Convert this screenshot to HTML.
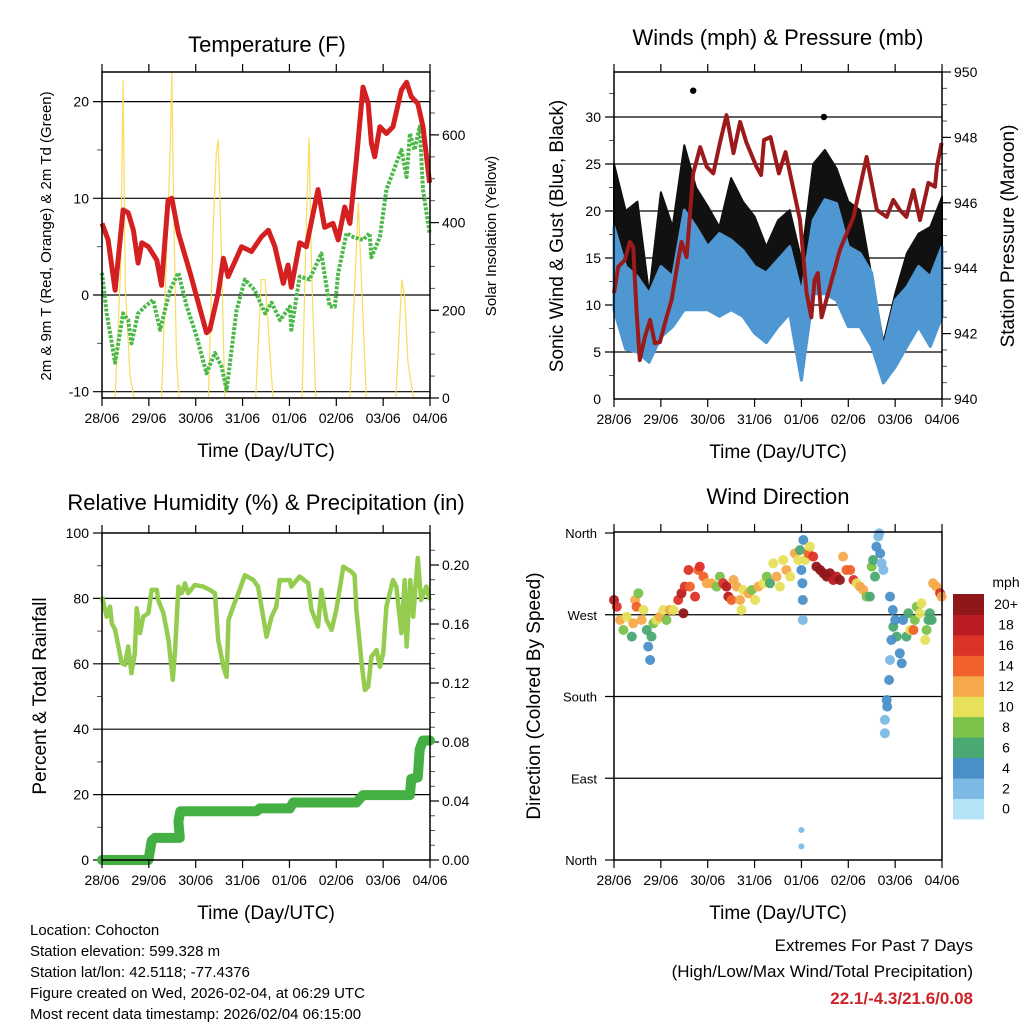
<!DOCTYPE html>
<html><head><meta charset="utf-8">
<style>
html,body{margin:0;padding:0;background:#fff;}
svg{display:block;font-family:"Liberation Sans",Arial,sans-serif;}
</style></head>
<body>
<svg id="chart" width="1024" height="1024" viewBox="0 0 1024 1024" xmlns="http://www.w3.org/2000/svg">
<rect width="1024" height="1024" fill="#fff"/>
<g id="p1"></g>
<g id="p2"></g>
<g id="p3"></g>
<g id="p4"></g>
<g font-size="15" fill="#000">
<text x="30" y="935">Location: Cohocton</text>
<text x="30" y="956">Station elevation: 599.328 m</text>
<text x="30" y="977">Station lat/lon: 42.5118; -77.4376</text>
<text x="30" y="998">Figure created on Wed, 2026-02-04, at 06:29 UTC</text>
<text x="30" y="1019">Most recent data timestamp: 2026/02/04 06:15:00</text>
</g>
<g text-anchor="end">
<text x="973" y="951" font-size="17">Extremes For Past 7 Days</text>
<text x="973" y="977" font-size="17">(High/Low/Max Wind/Total Precipitation)</text>
<text x="973" y="1004" font-size="17" font-weight="bold" fill="#cc2229">22.1/-4.3/21.6/0.08</text>
</g>
</svg>
<script>
// ---------- DATA ----------
const dayLabels = ["28/06","29/06","30/06","31/06","01/06","02/06","03/06","04/06"];
// Temperature (F)
const tempDays = [0,0.13,0.28,0.45,0.56,0.67,0.77,0.85,0.99,1.17,1.27,1.41,1.49,1.63,1.88,2.23,2.3,2.48,2.59,2.69,2.98,3.19,3.4,3.55,3.69,3.87,3.97,4.04,4.22,4.36,4.61,4.75,4.93,5.04,5.18,5.29,5.43,5.57,5.68,5.75,5.82,5.93,6.07,6.21,6.39,6.5,6.6,6.74,6.85,6.99];
const tempValues = [7.4,5.7,0.5,8.8,8.5,6.7,3.3,5.4,5.0,3.6,1.0,9.8,10,6.4,2.3,-3.9,-3.6,0.2,3.8,1.9,5.0,4.5,6.0,6.7,5.0,1.2,3.1,0.8,5.4,5.0,10.9,7.0,7.4,5.7,9.1,7.4,14,21.5,19.8,15.7,14.3,17.4,16.7,17.4,21.2,22,20.5,19.8,17.4,11.6];
const dewDays = [0,0.1,0.28,0.45,0.56,0.63,0.77,0.92,1.09,1.24,1.45,1.63,1.81,2.02,2.23,2.41,2.55,2.66,2.87,3.05,3.26,3.48,3.62,3.8,4.01,4.04,4.22,4.43,4.68,4.86,4.97,5.04,5.22,5.36,5.57,5.71,5.75,5.93,6.07,6.39,6.5,6.57,6.67,6.78,6.85,6.99];
const dewValues = [2.3,-1.9,-7.0,-1.9,-2.6,-5.0,-1.9,-1.2,-0.5,-3.6,0.5,2.3,-1.2,-4.3,-8.1,-6.0,-7.4,-9.8,-1.6,1.6,0.5,-1.9,-0.8,-2.6,-1.2,-3.6,1.9,1.6,4.3,-1.2,-1.2,2.3,6.4,6.0,5.7,6.4,3.9,6.0,10.9,15,12.2,16.7,15,17.4,10.9,6.4];
const solarDays = [0,0.28,0.4,0.45,0.5,0.6,0.68,1.27,1.45,1.49,1.52,1.59,1.65,2.27,2.37,2.44,2.48,2.55,2.62,3.28,3.4,3.48,3.65,4.27,4.36,4.42,4.47,4.56,5.29,5.47,5.64,6.27,6.4,6.46,6.53,6.65,7];
const solarValues = [0,0,300,725,250,50,0,0,543,745,490,87,0,0,380,558,590,323,0,0,270,270,0,0,400,595,300,0,0,445,0,0,270,230,80,0,0];
// Winds (mph) & pressure (mb)
const windDays = [0,0.25,0.5,0.75,1,1.25,1.5,1.75,2,2.25,2.5,2.75,3,3.25,3.5,3.75,4,4.25,4.5,4.75,5,5.25,5.5,5.75,6,6.25,6.5,6.75,7];
const windLow = [9.5,5.3,5,3.9,6.6,7.7,9.5,9.5,9.5,8.8,9.5,8.8,7,6,7.7,9.1,2,11.2,11.2,10.5,7.7,7.7,5.6,1.7,3.4,5.6,7.7,5.6,8.8];
const windHigh = [18.3,14.1,13,11.2,14.1,13,20.1,18.3,16.2,17.6,16.9,15.8,14.1,13.4,14.8,16.2,11.2,19,21.2,20.8,16.2,15.5,13.4,5.3,10.5,11.9,14.1,13,16.2];
const gustHigh = [25,20,21,11.2,22,18.3,27,22.5,20.5,18.3,23.5,21,19.4,16.2,19,20.1,14.8,25,26.5,24.5,21,20.1,13,6,11.2,15.5,17.6,18.3,21.5];
const gustOutlierDays = [1.69,4.48];
const gustOutlierValues = [32.8,30];
const pressDays = [0,0.09,0.23,0.34,0.41,0.48,0.55,0.66,0.77,0.87,0.98,1.12,1.23,1.37,1.44,1.55,1.69,1.84,1.98,2.12,2.26,2.4,2.55,2.69,2.83,3.04,3.14,3.2,3.34,3.52,3.66,3.97,4.11,4.21,4.28,4.35,4.43,4.57,4.82,5.11,5.39,5.61,5.82,5.96,6.1,6.24,6.39,6.53,6.71,6.85,6.89,6.99];
const pressValues = [943.24,944.04,944.25,944.8,944.65,942.72,941.19,941.9,942.42,941.71,941.74,942.5,943.03,944.25,944.8,944.34,946.9,947.7,947.1,946.9,947.83,948.68,947.52,948.47,947.83,947.1,946.85,947.92,948.01,946.9,947.55,945.47,943.24,942.5,943.64,943.85,942.5,943.24,944.56,945.57,947.4,945.78,945.57,946.09,945.78,945.57,946.39,945.47,946.61,946.49,947.1,947.83];
// Relative humidity (%) & precipitation (in)
const rhDays = [0,0.1,0.17,0.21,0.28,0.35,0.42,0.49,0.56,0.63,0.7,0.74,0.81,0.88,0.99,1.06,1.17,1.2,1.31,1.42,1.51,1.56,1.63,1.7,1.77,1.84,1.98,2.16,2.3,2.41,2.48,2.59,2.66,2.7,2.8,2.91,3.05,3.23,3.33,3.44,3.51,3.62,3.72,3.79,4.01,4.04,4.22,4.4,4.47,4.61,4.68,4.79,4.9,5.0,5.15,5.32,5.39,5.43,5.54,5.61,5.68,5.75,5.86,5.93,6.0,6.07,6.21,6.28,6.39,6.46,6.5,6.58,6.64,6.74,6.81,6.92,6.99];
const rhValues = [80.5,74.4,77.5,72.4,70.4,65.3,60.2,59.7,65.3,57.1,63.2,77,69.4,74.4,75.5,82.6,82.6,79.5,75.5,67.3,55.1,64.2,83.6,81.6,84.6,81.6,84.1,83.6,82.6,81.6,67.3,59.1,56.0,73.4,77.5,81.6,87.1,85.6,83.6,74.4,68.3,74.4,77.5,85.6,85.6,83.6,86.7,84.6,76.5,71.4,82.6,73.4,70.4,76.5,89.7,88.2,87.1,76.5,60.2,52.0,53.0,62.2,64.2,59.1,63.2,77.5,85.6,83.6,69.4,85.6,65.3,85.6,74.4,92.4,79.5,83.6,79.5];
const rainDays = [0,0.99,1.06,1.13,1.66,1.63,1.67,3.3,3.37,4.01,4.08,5.43,5.57,6.57,6.6,6.74,6.78,6.85,7.0];
const rainValues = [0,0,0.013,0.015,0.015,0.026,0.033,0.033,0.035,0.035,0.039,0.039,0.044,0.044,0.055,0.056,0.075,0.081,0.081];
// Wind direction (deg) colored by speed (mph)
const dirDays = [0,0.06,0.13,0.2,0.27,0.38,0.41,0.45,0.48,0.52,0.59,0.63,0.7,0.73,0.77,0.8,0.84,0.91,0.98,1.05,1.12,1.19,1.27,1.37,1.44,1.48,1.51,1.59,1.62,1.73,1.8,1.83,1.91,1.98,2.08,2.19,2.26,2.33,2.4,2.44,2.51,2.55,2.62,2.69,2.72,2.76,2.87,2.94,3.01,3.08,3.19,3.26,3.33,3.4,3.47,3.54,3.61,3.68,3.76,3.86,3.93,3.97,4.0,4.02,4.03,4.03,4.04,4.08,4.15,4.18,4.25,4.32,4.4,4.47,4.54,4.61,4.68,4.75,4.82,4.89,4.96,5.04,5.11,5.18,5.25,5.32,5.39,5.46,5.5,5.53,5.57,5.6,5.64,5.68,5.71,5.75,5.66,5.89,5.95,5.96,6.0,6.03,5.89,5.87,5.82,5.78,5.78,5.83,5.92,6.1,6.14,6.17,6.24,6.28,6.32,6.39,6.42,6.46,6.53,6.56,6.64,6.67,6.71,6.74,6.78,6.81,6.88,6.96,6.99,4.0,4.0];
const dirValues = [286.3,278.9,264.2,253.2,267.9,245.9,260.6,286.3,278.9,293.6,264.2,275.2,253.2,234.9,220.2,245.9,260.6,264.2,267.9,275.2,264.2,275.2,275.2,286.3,293.6,271.6,301,319.3,301,290,319.3,323,312,304.6,304.6,301,312,304.6,301,290,286.3,308.3,301,286.3,275.2,297.3,293.6,297.3,286.3,301,304.6,312,304.6,326.6,312,301,330.3,319.3,312,337.6,330.3,341.3,319.3,304.6,286.3,264.2,352.3,330.3,337.6,345,334,323,319.3,315.6,312,315.6,308.3,312,308.3,334,319.3,319.3,308.3,304.6,301,297.3,290,290,323,330.3,312,345,356,337.6,326.6,319.3,359.6,290,275.2,256.9,264.2,245.9,220.2,198.2,176.2,154.2,139.6,168.9,242.2,227.6,216.6,264.2,245.9,271.6,253.2,253.2,264.2,278.9,271.6,282.6,242.2,253.2,264.2,271.6,264.2,304.6,301,293.6,290,33,15];
const dirSpeeds = [18,16,12,8,10,7,12,12,14,9,12,10,6,5,4,6,8,11,12,10,9,12,11,16,18,20,17,17,15,16,14,17,14,12,13,9,8,16,18,18,15,13,13,12,11,10,12,9,10,12,11,9,7,10,12,10,11,13,10,12,10,6,4,4,4,2,4,10,14,10,16,20,20,20,20,20,19,18,20,12,14,14,16,11,12,13,9,7,8,6,7,4,2,4,2,2,2,4,5,6,4,6,2,4,4,2,2,4,5,4,4,5,7,6,10,14,8,8,10,10,10,8,7,6,7,12,12,17,12,2,2];
const speedColors = ["#b4e2f6","#7cb9e4","#4a90c8","#4aa872","#7bc24a","#e6e05a","#f6a94a","#f0622a","#dc3328","#b91c22","#8f1619"];
const speedLabels = ["0","2","4","6","8","10","12","14","16","18","20+"];
const dirLabels = ["North","East","South","West","North"];

// ---------- HELPERS ----------
const NS = "http://www.w3.org/2000/svg";
function mk(parent, tag, attrs, name) {
  const e = document.createElementNS(NS, tag);
  for (const k in attrs) e.setAttribute(k, attrs[k]);
  
  
  parent.appendChild(e);
  return e;
}
function txt(parent, x, y, s, size, anchor, name, extra) {
  const t = mk(parent, 'text', Object.assign({x: x, y: y, 'font-size': size, 'text-anchor': anchor || 'start', fill: '#000'}, extra || {}), name);
  t.textContent = s;
  return t;
}
function rotTxt(parent, x, y, s, size, name) {
  return txt(parent, 0, 0, s, size, 'middle', name, {transform: 'translate(' + x + ',' + y + ') rotate(-90)'});
}
function pathFrom(xs, ys, fx, fy) {
  return xs.map((d, i) => (i ? 'L' : 'M') + fx(d).toFixed(1) + ',' + fy(ys[i]).toFixed(1)).join('');
}
function frame(g, L, T, R, B, name) {
  mk(g, 'rect', {x: L, y: T, width: R - L, height: B - T, fill: 'none', stroke: '#000', 'stroke-width': 1.5}, name);
}
function xAxis(g, L, T, R, B, fx, prefix) {
  dayLabels.forEach((lab, i) => {
    const x = fx(i);
    mk(g, 'line', {x1: x, y1: B, x2: x, y2: B + 8, stroke: '#000', 'stroke-width': 1.2}, prefix + '-x-tick');
    mk(g, 'line', {x1: x, y1: T, x2: x, y2: T - 8, stroke: '#000', 'stroke-width': 1.2}, prefix + '-x-tick-top');
    txt(g, x, B + 25, lab, 14, 'middle', prefix + '-x-tick-label');
  });
  txt(g, (L + R) / 2, B + 59, 'Time (Day/UTC)', 19, 'middle', prefix + '-x-axis-title');
}
function grid(g, L, R, y, name) {
  mk(g, 'line', {x1: L - 9, y1: y, x2: R, y2: y, stroke: '#000', 'stroke-width': 1.2}, name);
}
function rightTicks(g, R, fy, vals, labels, minorVals, prefix) {
  minorVals.forEach(v => mk(g, 'line', {x1: R, y1: fy(v), x2: R + 5, y2: fy(v), stroke: '#555', 'stroke-width': 1}, prefix + '-minor-tick'));
  vals.forEach((v, i) => {
    mk(g, 'line', {x1: R, y1: fy(v), x2: R + 9, y2: fy(v), stroke: '#000', 'stroke-width': 1.2}, prefix + '-tick');
    txt(g, R + 12, fy(v) + 5, labels[i], 14, 'start', prefix + '-tick-label');
  });
}

// ---------- PANEL 1: Temperature ----------
(function () {
  const g = document.getElementById('p1');
  const L = 102, T = 72, R = 430, B = 398;
  const fx = d => L + d * 46.86;
  const fT = t => 295 - t * 9.67;
  const fS = s => B - s * 0.4385;
  txt(g, 267, 52, 'Temperature (F)', 22, 'middle', 'temperature-title');
  [-10, 0, 10, 20].forEach(v => {
    grid(g, L, R, fT(v), 'temp-gridline');
    txt(g, L - 13, fT(v) + 5, String(v), 14, 'end', 'temp-y-tick-label');
  });
  [-5, 5, 15].forEach(v => mk(g, 'line', {x1: L - 5, y1: fT(v), x2: L, y2: fT(v), stroke: '#555'}, 'temp-minor-tick'));
  const sMaj = [0, 200, 400, 600], sMin = [];
  for (let v = 0; v <= 740; v += 50) sMin.push(v);
  rightTicks(g, R, fS, sMaj, sMaj.map(String), sMin, 'solar');
  mk(g, 'path', {d: pathFrom(solarDays, solarValues, fx, v => fS(Math.min(v, 743))), fill: 'none', stroke: '#f7d94c', 'stroke-width': 1.2, opacity: 0.9}, 'solar-line');
  mk(g, 'path', {d: pathFrom(dewDays, dewValues, fx, fT), fill: 'none', stroke: '#4db84a', 'stroke-width': 4, 'stroke-dasharray': '3 1.5', 'stroke-linejoin': 'round'}, 'dewpoint-line');
  mk(g, 'path', {d: pathFrom(tempDays, tempValues, fx, fT), fill: 'none', stroke: '#d42020', 'stroke-width': 5, 'stroke-linejoin': 'round'}, 'temp-2m-line');
  frame(g, L, T, R, B, 'temp-plot-frame');
  xAxis(g, L, T, R, B, fx, 'temp');
  rotTxt(g, 51, 236, '2m & 9m T (Red, Orange) & 2m Td (Green)', 15, 'temp-y-axis-title');
  rotTxt(g, 496, 236, 'Solar Insolation (Yellow)', 15, 'solar-y-axis-title');
})();

// ---------- PANEL 2: Winds ----------
(function () {
  const g = document.getElementById('p2');
  const L = 614, T = 72, R = 942, B = 399;
  const fx = d => L + d * 46.86;
  const fW = m => B - m * 9.4;
  const fP = p => B - (p - 940) * 32.7;
  txt(g, 778, 45, 'Winds (mph) & Pressure (mb)', 22, 'middle', 'winds-title');
  [0, 5, 10, 15, 20, 25, 30].forEach(v => {
    if (v > 0) grid(g, L, R, fW(v), 'wind-gridline');
    txt(g, L - 13, fW(v) + 5, String(v), 14, 'end', 'wind-y-tick-label');
  });
  [2.5, 7.5, 12.5, 17.5, 22.5, 27.5, 32.5].forEach(v => mk(g, 'line', {x1: L - 5, y1: fW(v), x2: L, y2: fW(v), stroke: '#555'}, 'wind-minor-tick'));
  const pMaj = [940, 942, 944, 946, 948, 950], pMin = [];
  for (let v = 940; v <= 950; v += 0.5) pMin.push(v);
  rightTicks(g, R, fP, pMaj, pMaj.map(String), pMin, 'pressure');
  const n = windDays.length;
  const gustTop = pathFrom(windDays, gustHigh, fx, fW);
  const lowBack = windDays.slice().reverse().map((d, i) => 'L' + fx(d).toFixed(1) + ',' + fW(windLow[n - 1 - i] + 1).toFixed(1)).join('');
  mk(g, 'path', {d: gustTop + lowBack + 'Z', fill: '#111', stroke: '#111', 'stroke-width': 2, 'stroke-linejoin': 'round'}, 'gust-band');
  const windTop = pathFrom(windDays, windHigh, fx, fW);
  const windBack = windDays.slice().reverse().map((d, i) => 'L' + fx(d).toFixed(1) + ',' + fW(windLow[n - 1 - i]).toFixed(1)).join('');
  mk(g, 'path', {d: windTop + windBack + 'Z', fill: '#4f97d2', stroke: '#4f97d2', 'stroke-width': 3, 'stroke-linejoin': 'round'}, 'wind-band');
  gustOutlierDays.forEach((d, i) => mk(g, 'circle', {cx: fx(d), cy: fW(gustOutlierValues[i]), r: 3.2, fill: '#000'}, 'gust-outlier'));
  mk(g, 'path', {d: pathFrom(pressDays, pressValues, fx, fP), fill: 'none', stroke: '#9b1a1c', 'stroke-width': 4, 'stroke-linejoin': 'round'}, 'pressure-line');
  frame(g, L, T, R, B, 'wind-plot-frame');
  xAxis(g, L, T, R, B, fx, 'wind');
  rotTxt(g, 563, 236, 'Sonic Wind & Gust (Blue, Black)', 19, 'wind-y-axis-title');
  rotTxt(g, 1014, 236, 'Station Pressure (Maroon)', 19, 'pressure-y-axis-title');
})();

// ---------- PANEL 3: Humidity & Precipitation ----------
(function () {
  const g = document.getElementById('p3');
  const L = 102, T = 533, R = 430, B = 860;
  const fx = d => L + d * 46.86;
  const fH = h => B - h * 3.27;
  const fR = r => B - r * 1475;
  txt(g, 266, 510, 'Relative Humidity (%) & Precipitation (in)', 22, 'middle', 'humidity-title');
  [0, 20, 40, 60, 80, 100].forEach(v => {
    if (v > 0 && v < 100) grid(g, L, R, fH(v), 'rh-gridline');
    else mk(g, 'line', {x1: L - 9, y1: fH(v), x2: L, y2: fH(v), stroke: '#000', 'stroke-width': 1.2}, 'rh-tick');
    txt(g, L - 13, fH(v) + 5, String(v), 14, 'end', 'rh-y-tick-label');
  });
  [10, 30, 50, 70, 90].forEach(v => mk(g, 'line', {x1: L - 5, y1: fH(v), x2: L, y2: fH(v), stroke: '#555'}, 'rh-minor-tick'));
  const rMaj = [0, 0.04, 0.08, 0.12, 0.16, 0.20], rMin = [];
  for (let v = 0; v <= 0.22; v += 0.01) rMin.push(v);
  rightTicks(g, R, fR, rMaj, rMaj.map(v => v.toFixed(2)), rMin, 'rain');
  mk(g, 'path', {d: pathFrom(rhDays, rhValues, fx, fH), fill: 'none', stroke: '#93cc4f', 'stroke-width': 4.5, 'stroke-linejoin': 'round'}, 'rh-line');
  mk(g, 'path', {d: pathFrom(rainDays, rainValues, fx, fR), fill: 'none', stroke: '#44b044', 'stroke-width': 10, 'stroke-linejoin': 'round', 'stroke-linecap': 'round'}, 'rain-line');
  frame(g, L, T, R, B, 'rh-plot-frame');
  xAxis(g, L, T, R, B, fx, 'rh');
  rotTxt(g, 46, 696, 'Percent & Total Rainfall', 19, 'rh-y-axis-title');
})();

// ---------- PANEL 4: Wind direction ----------
(function () {
  const g = document.getElementById('p4');
  const L = 614, T = 532, R = 942, B = 860;
  const fx = d => L + d * 46.86;
  const fD = v => B - v * 0.9083;
  txt(g, 778, 504, 'Wind Direction', 22, 'middle', 'direction-title');
  [0, 90, 180, 270, 360].forEach((v, i) => {
    if (v > 0 && v < 360) grid(g, L, R, fD(v), 'dir-gridline');
    else mk(g, 'line', {x1: L - 9, y1: fD(v), x2: L, y2: fD(v), stroke: '#000', 'stroke-width': 1.2}, 'dir-tick');
    txt(g, L - 17, fD(v) + 5, dirLabels[i], 13, 'end', 'dir-y-tick-label');
  });
  dirDays.forEach((d, i) => {
    const s = dirSpeeds[i] || 0;
    const bin = Math.min(10, Math.floor(s / 2));
    const r = (dirValues[i] < 60) ? 3 : 5;
    mk(g, 'circle', {cx: fx(d).toFixed(1), cy: fD(dirValues[i]).toFixed(1), r: r, fill: speedColors[bin], opacity: 0.95}, 'direction-point');
  });
  frame(g, L, T, R, B, 'dir-plot-frame');
  xAxis(g, L, T, R, B, fx, 'dir');
  rotTxt(g, 540, 696, 'Direction (Colored By Speed)', 19, 'dir-y-axis-title');
  const cb = mk(g, 'g', {}, 'speed-colorbar');
  txt(cb, 1006, 587, 'mph', 14, 'middle', 'colorbar-title');
  const top = 594, h = 20.45;
  speedColors.forEach((c, i) => {
    const k = 10 - i;
    mk(cb, 'rect', {x: 953, y: top + k * h, width: 31, height: h + 0.5, fill: c}, 'colorbar-swatch');
    txt(cb, 1006, top + k * h + h / 2 + 5, speedLabels[i], 14, 'middle', 'colorbar-label');
  });
})();
</script>
</body></html>
